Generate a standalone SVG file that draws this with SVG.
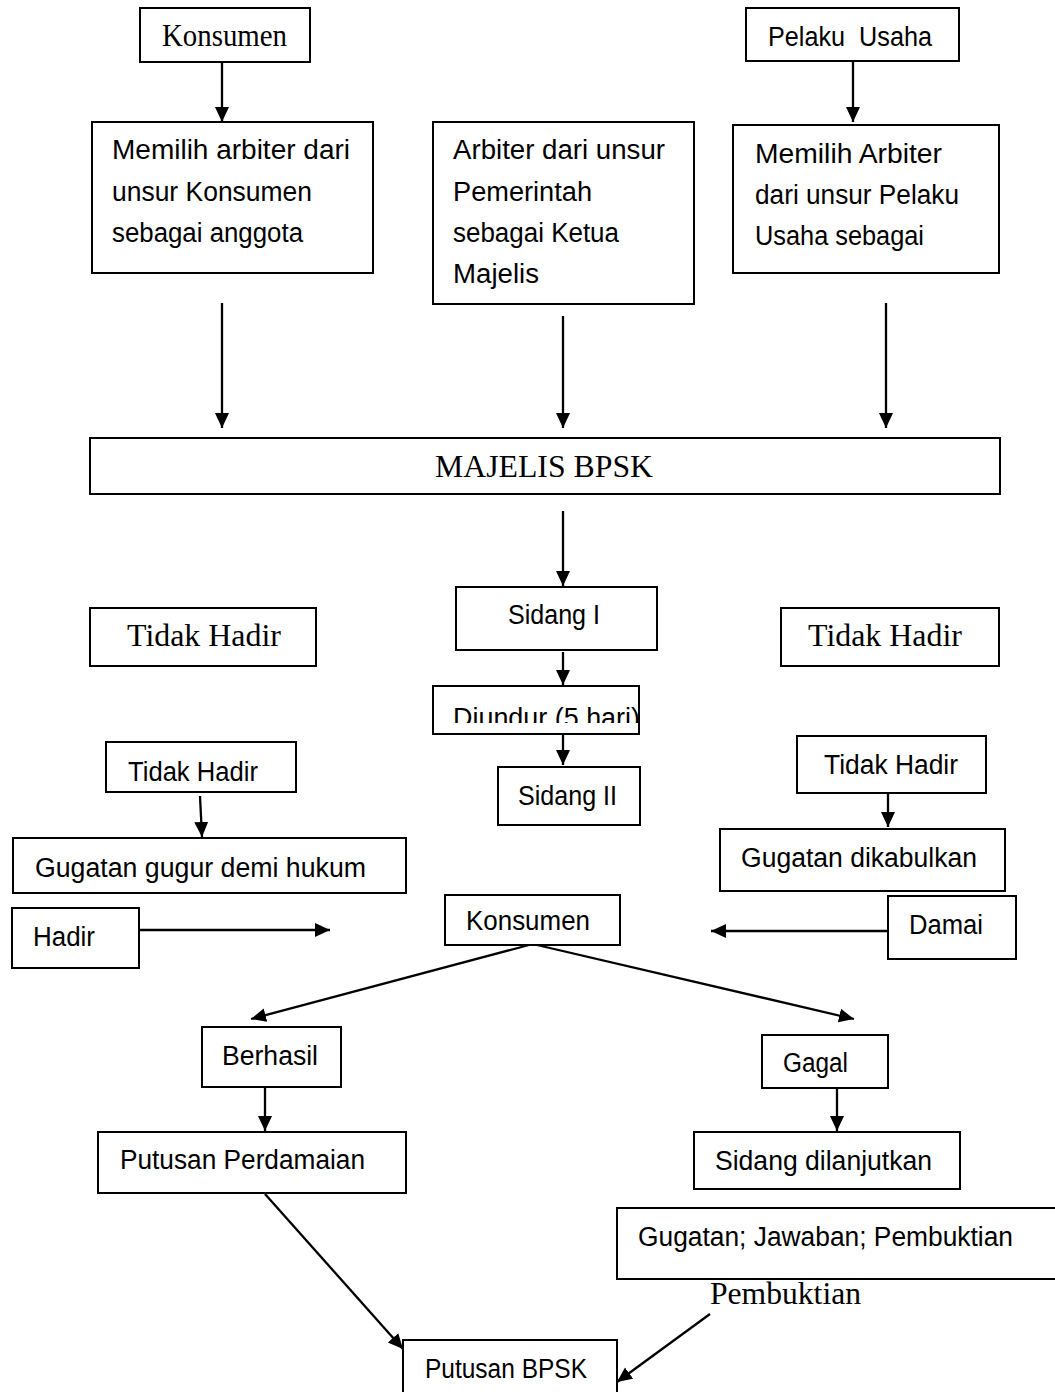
<svg xmlns="http://www.w3.org/2000/svg" width="1055" height="1392" viewBox="0 0 1055 1392">
<style>
.box{fill:#fff;stroke:#000;stroke-width:2}
.s{font-family:"Liberation Sans",Arial,sans-serif;font-size:27px;fill:#000}
.r{font-family:"Liberation Serif","Times New Roman",serif;font-size:31px;fill:#000}
.c{stroke:#000;stroke-width:2.3;fill:none;marker-end:url(#ah)}
</style>
<defs>
<marker id="ah" markerUnits="userSpaceOnUse" markerWidth="16" markerHeight="15" refX="15" refY="7" orient="auto">
<path d="M0,0 L15,7 L0,14 z" fill="#000"/>
</marker>
<clipPath id="clipD"><rect x="433" y="686" width="207" height="37"/></clipPath>
</defs>
<rect width="1055" height="1392" fill="#fff"/>

<g id="n-konsumen-top"><rect class="box" x="140" y="8" width="170" height="54"/><text class="r" x="162" y="46" textLength="125" lengthAdjust="spacingAndGlyphs">Konsumen</text></g>
<g id="n-pelaku"><rect class="box" x="746" y="8" width="213" height="53"/><text class="s" x="768" y="46" textLength="164" lengthAdjust="spacingAndGlyphs" xml:space="preserve">Pelaku  Usaha</text></g>
<g id="n-memilih-konsumen"><rect class="box" x="92" y="122" width="281" height="151"/>
<text class="s" x="112" y="159" textLength="238" lengthAdjust="spacingAndGlyphs">Memilih arbiter dari</text>
<text class="s" x="112" y="201" textLength="200" lengthAdjust="spacingAndGlyphs">unsur Konsumen</text>
<text class="s" x="112" y="242" textLength="191" lengthAdjust="spacingAndGlyphs">sebagai anggota</text></g>
<g id="n-arbiter-pemerintah"><rect class="box" x="433" y="122" width="261" height="182"/>
<text class="s" x="453" y="159" textLength="212" lengthAdjust="spacingAndGlyphs">Arbiter dari unsur</text>
<text class="s" x="453" y="201" textLength="139" lengthAdjust="spacingAndGlyphs">Pemerintah</text>
<text class="s" x="453" y="242" textLength="166" lengthAdjust="spacingAndGlyphs">sebagai Ketua</text>
<text class="s" x="453" y="283" textLength="86" lengthAdjust="spacingAndGlyphs">Majelis</text></g>
<g id="n-memilih-pelaku"><rect class="box" x="733" y="125" width="266" height="148"/>
<text class="s" x="755" y="163" textLength="187" lengthAdjust="spacingAndGlyphs">Memilih Arbiter</text>
<text class="s" x="755" y="204" textLength="204" lengthAdjust="spacingAndGlyphs">dari unsur Pelaku</text>
<text class="s" x="755" y="245" textLength="169" lengthAdjust="spacingAndGlyphs">Usaha sebagai</text></g>
<g id="n-majelis"><rect class="box" x="90" y="438" width="910" height="56"/><text class="r" x="435" y="477" font-size="32" textLength="218" lengthAdjust="spacingAndGlyphs">MAJELIS BPSK</text></g>
<g id="n-tidakhadir-l1"><rect class="box" x="90" y="608" width="226" height="58"/><text class="r" x="127" y="646" textLength="154" lengthAdjust="spacingAndGlyphs">Tidak Hadir</text></g>
<g id="n-tidakhadir-r1"><rect class="box" x="781" y="608" width="218" height="58"/><text class="r" x="808" y="646" textLength="154" lengthAdjust="spacingAndGlyphs">Tidak Hadir</text></g>
<g id="n-sidang1"><rect class="box" x="456" y="587" width="201" height="63"/><text class="s" x="508" y="624" textLength="92" lengthAdjust="spacingAndGlyphs">Sidang I</text></g>
<g id="n-diundur"><rect class="box" x="433" y="686" width="206" height="48"/><text class="s" x="453" y="727" clip-path="url(#clipD)" textLength="187" lengthAdjust="spacingAndGlyphs">Diundur (5 hari)</text></g>
<g id="n-sidang2"><rect class="box" x="498" y="767" width="142" height="58"/><text class="s" x="518" y="805" textLength="99" lengthAdjust="spacingAndGlyphs">Sidang II</text></g>
<g id="n-tidakhadir-l2"><rect class="box" x="106" y="742" width="190" height="50"/><text class="s" x="128" y="781" textLength="130" lengthAdjust="spacingAndGlyphs">Tidak Hadir</text></g>
<g id="n-gugur"><rect class="box" x="13" y="838" width="393" height="55"/><text class="s" x="35" y="877" textLength="331" lengthAdjust="spacingAndGlyphs">Gugatan gugur demi hukum</text></g>
<g id="n-hadir"><rect class="box" x="12" y="908" width="127" height="60"/><text class="s" x="33" y="946" textLength="62" lengthAdjust="spacingAndGlyphs">Hadir</text></g>
<g id="n-tidakhadir-r2"><rect class="box" x="797" y="736" width="189" height="57"/><text class="s" x="824" y="774" textLength="134" lengthAdjust="spacingAndGlyphs">Tidak Hadir</text></g>
<g id="n-dikabulkan"><rect class="box" x="720" y="829" width="285" height="62"/><text class="s" x="741" y="867" textLength="236" lengthAdjust="spacingAndGlyphs">Gugatan dikabulkan</text></g>
<g id="n-damai"><rect class="box" x="888" y="896" width="128" height="63"/><text class="s" x="909" y="934" textLength="74" lengthAdjust="spacingAndGlyphs">Damai</text></g>
<g id="n-konsumen-mid"><rect class="box" x="445" y="895" width="175" height="50"/><text class="s" x="466" y="930" textLength="124" lengthAdjust="spacingAndGlyphs">Konsumen</text></g>
<g id="n-berhasil"><rect class="box" x="202" y="1027" width="139" height="60"/><text class="s" x="222" y="1065" textLength="96" lengthAdjust="spacingAndGlyphs">Berhasil</text></g>
<g id="n-gagal"><rect class="box" x="762" y="1035" width="126" height="53"/><text class="s" x="783" y="1072" textLength="65" lengthAdjust="spacingAndGlyphs">Gagal</text></g>
<g id="n-putusan-perdamaian"><rect class="box" x="98" y="1132" width="308" height="61"/><text class="s" x="120" y="1169" textLength="245" lengthAdjust="spacingAndGlyphs">Putusan Perdamaian</text></g>
<g id="n-sidang-lanjut"><rect class="box" x="694" y="1132" width="266" height="57"/><text class="s" x="715" y="1170" textLength="217" lengthAdjust="spacingAndGlyphs">Sidang dilanjutkan</text></g>
<g id="n-gugatan-jawaban"><rect class="box" x="617" y="1208" width="445" height="71"/><text class="s" x="638" y="1246" textLength="375" lengthAdjust="spacingAndGlyphs">Gugatan; Jawaban; Pembuktian</text></g>
<g id="n-pembuktian"><text class="r" x="710" y="1304" textLength="151" lengthAdjust="spacingAndGlyphs">Pembuktian</text></g>
<g id="n-putusan-bpsk"><rect class="box" x="403" y="1340" width="214" height="60"/><text class="s" x="425" y="1378" textLength="162" lengthAdjust="spacingAndGlyphs">Putusan BPSK</text></g>

<g id="connectors">
<line class="c" x1="222" y1="62" x2="222" y2="122"/>
<line class="c" x1="853" y1="61" x2="853" y2="122"/>
<line class="c" x1="222" y1="303" x2="222" y2="428"/>
<line class="c" x1="563" y1="316" x2="563" y2="428"/>
<line class="c" x1="886" y1="303" x2="886" y2="428"/>
<line class="c" x1="563" y1="511" x2="563" y2="586"/>
<line class="c" x1="563" y1="652" x2="563" y2="685"/>
<line class="c" x1="563" y1="734" x2="563" y2="765"/>
<line class="c" x1="200" y1="796" x2="202" y2="837"/>
<line class="c" x1="888" y1="793" x2="888" y2="827"/>
<line class="c" x1="139" y1="930" x2="330" y2="930"/>
<line class="c" x1="888" y1="931" x2="711" y2="931"/>
<line class="c" x1="529" y1="945" x2="251" y2="1019"/>
<line class="c" x1="537" y1="945" x2="854" y2="1019"/>
<line class="c" x1="265" y1="1087" x2="265" y2="1131"/>
<line class="c" x1="837" y1="1088" x2="837" y2="1131"/>
<line class="c" x1="265" y1="1194" x2="403" y2="1349"/>
<line class="c" x1="710" y1="1314" x2="617" y2="1382"/>
</g>
</svg>
